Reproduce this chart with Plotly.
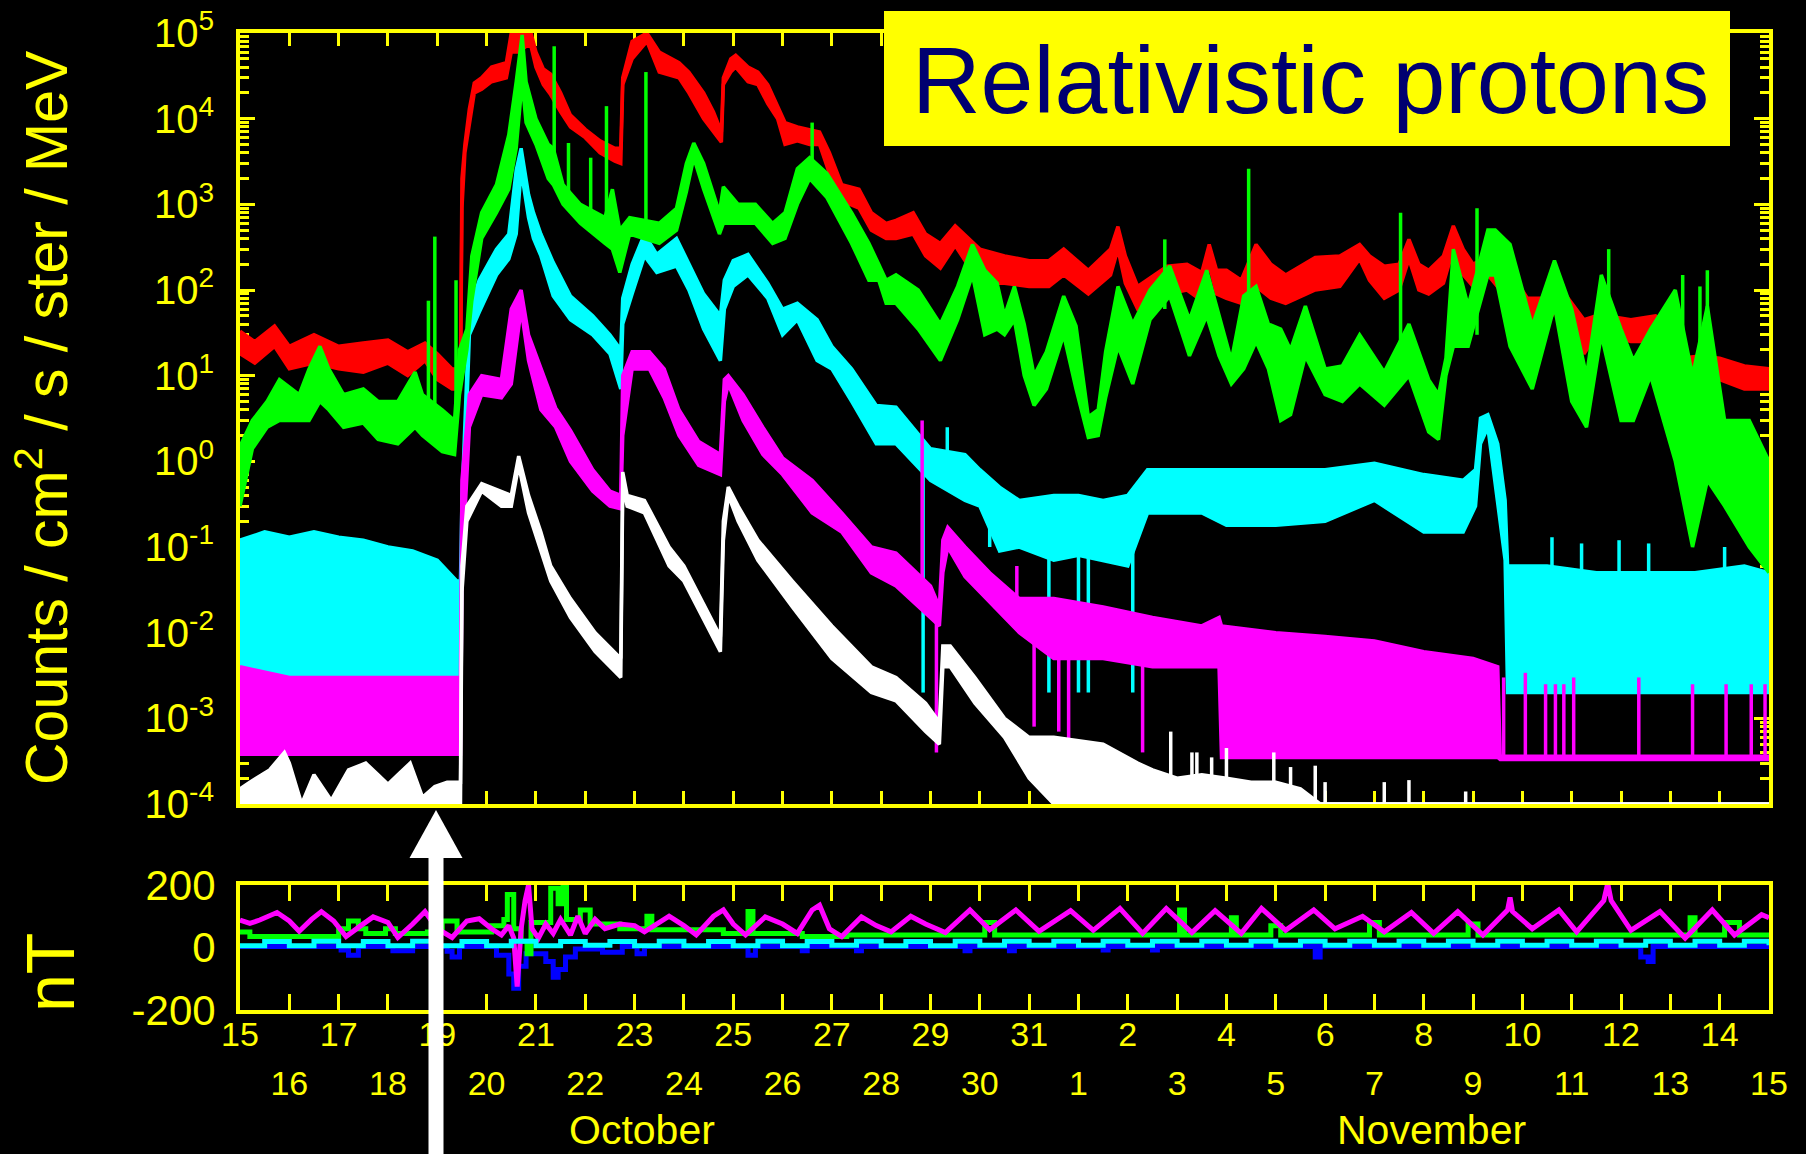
import plotly.graph_objects as go

# ---------------------------------------------------------------------------
# Particle fluxes, October 15 - November 15 (day 0 = Oct 15, 00 UT).
# Each row: (day, lower envelope, upper envelope) in counts/cm2/s/ster/MeV.
# ---------------------------------------------------------------------------
RED = [
    (0.0, 18, 33), (0.3, 14, 25), (0.7, 22, 38), (1.0, 12, 22), (1.5, 14, 30),
    (2.0, 12, 22), (2.5, 11, 24), (3.0, 14, 26), (3.4, 10, 19), (3.75, 15, 24),
    (4.0, 9, 18), (4.3, 7, 12), (4.47, 7, 12), (4.5, 900, 2000), (4.56, 4000, 5000),
    (4.65, 9000, 13000), (4.75, 20000, 26000), (4.9, 22000, 30000), (5.1, 27000, 40000),
    (5.4, 30000, 45000), (5.5, 60000, 100000), (5.65, 60000, 100000), (5.8, 70000, 100000),
    (5.9, 70000, 100000), (6.0, 40000, 60000), (6.15, 25000, 38000), (6.3, 19000, 33000),
    (6.5, 12000, 20000), (6.7, 8000, 11000), (7.0, 6000, 7500), (7.3, 4000, 5500),
    (7.6, 3200, 4500), (7.72, 3000, 4500), (7.76, 25000, 30000), (7.95, 50000, 80000),
    (8.25, 80000, 100000), (8.5, 35000, 60000), (8.9, 30000, 45000), (9.1, 20000, 35000),
    (9.4, 10000, 20000), (9.6, 7000, 12000), (9.76, 5300, 7000), (9.8, 25000, 30000),
    (9.95, 35000, 50000), (10.05, 40000, 55000), (10.3, 27000, 40000), (10.5, 25000, 35000),
    (10.7, 15000, 25000), (10.9, 10000, 14000), (11.05, 5000, 9000), (11.3, 5500, 8000),
    (11.55, 5000, 7500), (11.75, 5000, 7000), (11.95, 2300, 4000), (12.2, 1100, 1700),
    (12.55, 900, 1500), (12.8, 500, 800), (13.1, 400, 600), (13.3, 400, 650),
    (13.65, 450, 800), (13.9, 250, 450), (14.2, 180, 350), (14.5, 330, 560),
    (15.0, 120, 300), (15.5, 120, 250), (16.0, 110, 220), (16.4, 110, 220),
    (16.7, 150, 300), (17.2, 90, 170), (17.65, 150, 300), (17.8, 300, 550),
    (17.95, 120, 250), (18.2, 60, 110), (18.8, 90, 190), (19.2, 100, 200),
    (19.5, 75, 160), (19.65, 200, 340), (19.8, 90, 170), (20.0, 80, 170),
    (20.3, 70, 130), (20.6, 110, 340), (20.9, 80, 200), (21.2, 70, 150),
    (21.8, 100, 240), (22.3, 110, 250), (22.7, 230, 340), (22.9, 130, 250),
    (23.2, 80, 190), (23.5, 100, 200), (23.7, 230, 390), (23.9, 100, 200),
    (24.1, 90, 170), (24.4, 120, 250), (24.6, 300, 560), (24.8, 150, 300),
    (25.0, 110, 200), (25.3, 150, 250), (25.55, 100, 170), (25.8, 90, 150),
    (26.1, 40, 80), (26.5, 40, 80), (26.75, 70, 110), (27.0, 40, 70),
    (27.25, 18, 45), (27.5, 30, 50), (27.7, 30, 50), (28.2, 25, 45),
    (28.7, 25, 50), (28.9, 20, 40), (29.2, 9, 16), (29.6, 10, 17),
    (30.0, 9, 16), (30.5, 7, 13), (31.0, 7, 12),
]

GREEN = [
    (0.0, 0.3, 1.5), (0.25, 1.4, 3.0), (0.55, 2.5, 5.0), (0.8, 3.0, 9.0), (1.2, 3.0, 6.0),
    (1.4, 3.0, 12), (1.62, 5.0, 22), (1.8, 4.0, 12), (2.1, 2.5, 6.0), (2.5, 2.8, 7.0),
    (2.8, 1.8, 5.0), (3.2, 1.6, 5.0), (3.55, 2.5, 11), (3.7, 2.0, 6.0), (4.1, 1.3, 4.0),
    (4.35, 1.2, 3.0), (4.45, 6, 20), (4.6, 20, 35), (4.7, 75, 250), (4.9, 400, 800),
    (5.2, 800, 1700), (5.45, 1500, 6500), (5.6, 4500, 27000), (5.72, 27000, 95000),
    (5.8, 9000, 27000), (6.0, 5000, 10000), (6.25, 2000, 5000), (6.35, 1700, 4500),
    (6.55, 1000, 1700), (6.9, 600, 1000), (7.4, 350, 700), (7.55, 300, 1500),
    (7.7, 160, 500), (7.9, 450, 700), (8.5, 350, 600), (8.85, 500, 900),
    (9.05, 1400, 3000), (9.2, 3500, 5200), (9.4, 1500, 3000), (9.6, 700, 1300),
    (9.72, 450, 800), (9.8, 600, 1600), (10.1, 600, 1000), (10.45, 600, 1000),
    (10.8, 350, 600), (11.05, 400, 800), (11.3, 1000, 2600), (11.55, 2000, 3500),
    (11.9, 1200, 2300), (12.4, 350, 800), (12.75, 130, 350), (12.95, 130, 200),
    (13.1, 70, 130), (13.3, 70, 150), (13.75, 35, 100), (14.2, 15, 40),
    (14.55, 45, 110), (14.85, 150, 340), (15.1, 30, 170), (15.35, 35, 120),
    (15.5, 30, 50), (15.7, 45, 110), (15.9, 10, 40), (16.1, 4.5, 10),
    (16.35, 7, 19), (16.7, 30, 85), (16.95, 7, 38), (17.2, 1.9, 3.3),
    (17.4, 2.0, 4.0), (17.55, 5.5, 19), (17.8, 22, 110), (18.1, 8, 40),
    (18.45, 45, 100), (18.85, 85, 190), (19.25, 17, 45), (19.6, 50, 170),
    (19.85, 17, 50), (20.1, 8, 15), (20.35, 12, 85), (20.6, 25, 110),
    (20.85, 12, 40), (21.1, 3.0, 35), (21.3, 3.5, 20), (21.6, 17, 65),
    (22.0, 6, 12), (22.35, 5, 13), (22.7, 8, 30), (23.2, 4.5, 11),
    (23.7, 10, 40), (24.1, 2.2, 9), (24.3, 1.8, 6), (24.45, 10, 16),
    (24.6, 22, 300), (24.9, 22, 65), (25.3, 150, 500), (25.45, 150, 500),
    (25.75, 22, 340), (26.2, 7, 38), (26.65, 65, 220), (27.0, 5, 60),
    (27.3, 2.5, 10), (27.6, 30, 150), (28.0, 3, 35), (28.25, 3, 15),
    (28.6, 10, 35), (29.1, 1, 100), (29.45, 0.1, 10), (29.75, 0.6, 65),
    (30.1, 0.3, 3), (30.6, 0.1, 3), (31.0, 0.05, 1),
]

CYAN = [
    (0.0, 0.002, 0.12), (0.5, 0.002, 0.15), (1.0, 0.002, 0.13), (1.5, 0.002, 0.15),
    (2.0, 0.002, 0.13), (2.5, 0.002, 0.12), (3.0, 0.002, 0.10), (3.5, 0.002, 0.09),
    (4.0, 0.002, 0.07), (4.4, 0.002, 0.04), (4.47, 0.002, 0.04), (4.5, 0.1, 0.35),
    (4.65, 30, 60), (4.85, 55, 130), (5.2, 150, 300), (5.45, 230, 450),
    (5.6, 450, 2500), (5.7, 2500, 4500), (5.85, 700, 1300), (5.95, 400, 800),
    (6.1, 250, 450), (6.35, 85, 210), (6.7, 45, 85), (7.15, 30, 50),
    (7.5, 18, 30), (7.72, 7, 20), (7.76, 40, 80), (7.95, 90, 200),
    (8.2, 250, 450), (8.45, 160, 260), (8.85, 190, 400), (9.1, 100, 200),
    (9.4, 35, 90), (9.74, 15, 50), (9.82, 60, 130), (10.0, 110, 220),
    (10.3, 150, 260), (10.7, 80, 120), (11.0, 30, 60), (11.3, 45, 70),
    (11.7, 15, 45), (12.0, 12, 22), (12.4, 5, 12), (12.9, 1.6, 4.5),
    (13.3, 1.6, 4.3), (14.0, 0.6, 1.4), (14.7, 0.35, 1.2), (15.0, 0.3, 0.8),
    (15.4, 0.09, 0.5), (15.8, 0.1, 0.35), (16.5, 0.07, 0.4), (17.0, 0.08, 0.4),
    (17.5, 0.07, 0.35), (18.0, 0.06, 0.4), (18.4, 0.25, 0.8), (19.0, 0.25, 0.8),
    (19.5, 0.25, 0.8), (20.0, 0.18, 0.8), (21.0, 0.18, 0.8), (22.0, 0.2, 0.8),
    (23.0, 0.35, 0.95), (24.0, 0.15, 0.7), (24.8, 0.15, 0.6), (25.05, 0.3, 0.8),
    (25.15, 1.6, 3.2), (25.3, 2.5, 3.5), (25.5, 0.35, 1.6), (25.65, 0.07, 0.35),
    (25.7, 0.002, 0.06), (26.5, 0.002, 0.06), (27.5, 0.002, 0.05), (28.5, 0.002, 0.05),
    (29.5, 0.002, 0.05), (30.5, 0.002, 0.06), (31.0, 0.002, 0.05),
]

MAGENTA = [
    (0.0, 0.00038, 0.004), (1.0, 0.00038, 0.003), (2.0, 0.00038, 0.003),
    (3.0, 0.00038, 0.003), (4.0, 0.00038, 0.003), (4.47, 0.00038, 0.003),
    (4.5, 0.05, 0.6), (4.65, 2.5, 6), (4.9, 6, 10), (5.3, 5.5, 9), (5.5, 8, 60),
    (5.7, 60, 100), (5.85, 15, 30), (6.1, 4, 12), (6.4, 2.5, 4.2), (6.7, 1.0, 2.3),
    (7.15, 0.45, 0.8), (7.5, 0.3, 0.45), (7.72, 0.28, 0.4), (7.76, 2, 10),
    (7.95, 12, 19), (8.3, 12, 19), (8.6, 5.5, 12), (8.9, 2, 4), (9.3, 0.9, 1.7),
    (9.74, 0.7, 1.2), (9.82, 5, 9), (9.9, 8, 10), (10.2, 3, 6), (10.6, 1.2, 2.5),
    (11.0, 0.7, 1.1), (11.6, 0.25, 0.6), (12.2, 0.15, 0.25), (12.8, 0.05, 0.1),
    (13.3, 0.035, 0.085), (14.0, 0.015, 0.035), (14.18, 0.012, 0.02),
    (14.25, 0.05, 0.12), (14.35, 0.1, 0.17), (14.7, 0.045, 0.1), (15.2, 0.023, 0.05),
    (15.8, 0.01, 0.025), (16.5, 0.005, 0.025), (17.5, 0.005, 0.02), (18.5, 0.004, 0.015),
    (19.5, 0.004, 0.012), (19.85, 0.004, 0.015), (19.9, 0.00035, 0.012),
    (21.0, 0.00035, 0.01), (22.0, 0.00035, 0.009), (23.0, 0.00035, 0.008),
    (24.0, 0.00035, 0.006), (25.0, 0.00035, 0.005), (25.5, 0.00035, 0.004),
    (25.55, 0.00033, 0.00036), (31.0, 0.00033, 0.00036),
]

WHITE = [
    (0.0, 0.0001, 0.00015), (0.2, 0.0001, 0.00018), (0.6, 0.0001, 0.00025),
    (0.9, 0.0001, 0.0004), (1.0, 0.0001, 0.0003), (1.25, 0.0001, 0.0001),
    (1.5, 0.0001, 0.00022), (1.85, 0.0001, 0.00011), (2.2, 0.0001, 0.00025),
    (2.55, 0.0001, 0.0003), (2.8, 0.0001, 0.00022), (3.0, 0.0001, 0.00017),
    (3.2, 0.0001, 0.00022), (3.45, 0.0001, 0.0003), (3.7, 0.0001, 0.00012),
    (3.95, 0.0001, 0.00016), (4.2, 0.0001, 0.00018), (4.47, 0.0001, 0.00018),
    (4.5, 0.03, 0.06), (4.6, 0.2, 0.3), (4.9, 0.45, 0.55), (5.3, 0.3, 0.45),
    (5.5, 0.3, 0.4), (5.65, 0.9, 1.15), (5.85, 0.25, 0.4), (6.1, 0.09, 0.15),
    (6.3, 0.04, 0.06), (6.7, 0.015, 0.025), (7.2, 0.006, 0.01), (7.72, 0.003, 0.005),
    (7.76, 0.5, 0.75), (7.85, 0.3, 0.4), (8.2, 0.25, 0.35), (8.7, 0.06, 0.1),
    (9.0, 0.04, 0.06), (9.74, 0.006, 0.009), (9.8, 0.12, 0.2), (9.9, 0.4, 0.5),
    (10.1, 0.2, 0.3), (10.5, 0.07, 0.12), (11.2, 0.02, 0.04), (12.0, 0.005, 0.012),
    (12.8, 0.002, 0.004), (13.3, 0.0016, 0.003), (13.9, 0.0007, 0.0015),
    (14.18, 0.0005, 0.0009), (14.25, 0.004, 0.007), (14.4, 0.004, 0.007),
    (14.9, 0.0015, 0.003), (15.5, 0.0006, 0.001), (16.0, 0.0002, 0.0006),
    (16.5, 0.0001, 0.0006), (17.5, 0.0001, 0.0005), (18.2, 0.0001, 0.0003),
    (18.5, 0.0001, 0.00025), (19.0, 0.0001, 0.0002), (19.5, 0.0001, 0.00022),
    (20.0, 0.0001, 0.0002), (20.5, 0.0001, 0.00018), (21.0, 0.0001, 0.00018),
    (21.5, 0.0001, 0.00015), (21.9, 0.0001, 0.0001), (31.0, 0.0001, 0.0001),
]

# Short-lived spikes and dropouts: (day, bottom, top)
GREEN_SPIKES = [
    (3.82, 3, 75), (3.95, 3, 420), (4.38, 3, 130), (6.37, 2000, 70000),
    (6.66, 1000, 5200), (7.11, 600, 3500), (7.43, 500, 14000), (8.23, 400, 35000),
    (11.6, 2000, 9000), (18.75, 60, 390), (20.45, 20, 2600), (23.53, 10, 800),
    (25.08, 30, 900), (27.75, 30, 300), (29.25, 3, 150), (29.6, 1, 110), (29.75, 1, 170),
]
CYAN_SPIKES = [
    (13.85, 0.002, 1.0), (14.34, 1.0, 2.5), (15.2, 0.1, 0.5), (16.4, 0.002, 0.1),
    (17.0, 0.002, 0.1), (17.2, 0.002, 0.1), (18.1, 0.002, 0.1), (26.6, 0.05, 0.13),
    (27.2, 0.05, 0.11), (27.96, 0.05, 0.12), (28.56, 0.05, 0.11), (30.1, 0.05, 0.1),
]
MAGENTA_SPIKES = [
    (13.83, 0.02, 3.0), (14.12, 0.0004, 0.015), (15.75, 0.02, 0.06), (16.1, 0.0008, 0.01),
    (16.6, 0.0007, 0.01), (16.8, 0.0005, 0.01), (18.3, 0.0004, 0.005),
    (25.62, 0.00035, 0.003), (26.06, 0.00035, 0.0034), (26.47, 0.00035, 0.0025),
    (26.67, 0.00035, 0.0025), (26.84, 0.00035, 0.0025), (27.04, 0.00035, 0.003),
    (28.36, 0.00035, 0.003), (29.45, 0.00035, 0.0025), (30.13, 0.00035, 0.0025),
    (30.64, 0.00035, 0.0025), (30.92, 0.00035, 0.0025),
]
WHITE_SPIKES = [
    (18.87, 0.0001, 0.0007), (19.3, 0.0001, 0.0004), (19.4, 0.0001, 0.0004),
    (19.7, 0.0001, 0.00035), (20.0, 0.0001, 0.00045), (20.96, 0.0001, 0.0004),
    (21.3, 0.0001, 0.00027), (21.8, 0.0001, 0.00028), (22.0, 0.0001, 0.00018),
    (23.2, 0.0001, 0.00018), (23.7, 0.0001, 0.00019), (24.85, 0.0001, 0.00014),
]

# ---------------------------------------------------------------------------
# Magnetometer traces (nT): (day, value)
# ---------------------------------------------------------------------------
MAG_NT = [
    (0.0, 88), (0.2, 77), (0.4, 88), (0.75, 112), (1.0, 85), (1.2, 52), (1.45, 90),
    (1.65, 115), (1.9, 85), (2.15, 35), (2.45, 70), (2.7, 98), (3.0, 80), (3.2, 32),
    (3.5, 75), (3.75, 115), (4.0, 60), (4.3, 32), (4.6, 85), (4.85, 92), (5.1, 60),
    (5.3, 40), (5.45, 70), (5.55, 30), (5.62, -125), (5.7, 60), (5.78, 150),
    (5.85, 200), (5.92, 60), (6.05, 30), (6.2, 75), (6.35, 45), (6.5, 90), (6.7, 40),
    (6.85, 100), (7.0, 45), (7.2, 90), (7.4, 60), (7.7, 75), (8.0, 70), (8.2, 50),
    (8.45, 75), (8.7, 100), (9.0, 70), (9.25, 40), (9.6, 100), (9.8, 120), (10.0, 75),
    (10.25, 40), (10.65, 98), (11.0, 75), (11.3, 45), (11.6, 120), (11.75, 135),
    (11.95, 60), (12.2, 35), (12.6, 98), (12.9, 70), (13.2, 50), (13.6, 100),
    (13.9, 75), (14.3, 48), (14.8, 120), (15.2, 57), (15.73, 120), (16.2, 52),
    (16.84, 118), (17.3, 55), (17.84, 125), (18.3, 45), (18.78, 125), (19.3, 48),
    (19.77, 118), (20.3, 45), (20.71, 125), (21.2, 55), (21.77, 120), (22.2, 60),
    (22.76, 100), (23.2, 50), (23.75, 112), (24.2, 45), (24.69, 115), (25.2, 40),
    (25.7, 120), (25.75, 160), (25.8, 115), (26.2, 60), (26.74, 120), (27.1, 50),
    (27.65, 150), (27.73, 205), (27.8, 150), (28.2, 55), (28.79, 115), (29.3, 30),
    (29.85, 120), (30.3, 40), (30.85, 105), (31.0, 95),
]
GREEN_NT = [
    (0.0, 50), (0.2, 35), (2.0, 60), (2.2, 85), (2.4, 60), (2.55, 45), (2.95, 60),
    (3.15, 45), (3.8, 50), (4.1, 85), (4.4, 50), (5.1, 70), (5.35, 90), (5.42, 170),
    (5.55, 60), (5.7, 20), (5.82, -20), (5.9, 80), (6.3, 190), (6.45, 140), (6.55, 200),
    (6.62, 90), (6.9, 120), (7.1, 75), (7.7, 60), (8.25, 100), (8.35, 57), (9.8, 45),
    (10.3, 115), (10.4, 45), (11.4, 35), (12.3, 40), (14.5, 40), (15.1, 80), (15.3, 40),
    (19.05, 120), (19.15, 40), (20.1, 95), (20.2, 40), (20.9, 70), (21.1, 40),
    (22.9, 80), (23.1, 40), (24.9, 75), (25.1, 40), (29.4, 95), (29.5, 40),
    (30.1, 80), (30.4, 40), (31.0, 45),
]
CYAN_NT_T = [
    0.0, 0.5, 1.0, 1.5, 2.0, 2.5, 3.0, 3.5, 4.0, 4.5, 5.0, 5.5, 6.0, 6.5, 7.0, 7.5,
    8.0, 8.5, 9.0, 9.5, 10.0, 10.5, 11.0, 11.5, 12.0, 12.5, 13.0, 13.5, 14.0, 14.5,
    15.0, 15.5, 16.0, 16.5, 17.0, 17.5, 18.0, 18.5, 19.0, 19.5, 20.0, 20.5, 21.0,
    21.5, 22.0, 22.5, 23.0, 23.5, 24.0, 24.5, 25.0, 25.5, 26.0, 26.5, 27.0, 27.5,
    28.0, 28.5, 29.0, 29.5, 30.0, 30.5, 31.0,
]
CYAN_NT_V = [
    6, 19, 6, 20, 6, 19, 6, 20, 6, 19, 6, 20, 6, 19, 7, 19, 6, 20, 6, 19, 6, 20,
    6, 19, 7, 20, 6, 19, 6, 20, 7, 20, 7, 20, 7, 20, 7, 20, 7, 20, 7, 20, 7, 20,
    7, 20, 7, 20, 7, 20, 7, 20, 7, 20, 7, 20, 7, 20, 7, 20, 7, 20, 7,
]
BLUE_NT = [
    (0.0, 3), (2.05, -8), (2.2, -25), (2.4, 3), (3.1, -10), (3.5, 3), (4.2, -12),
    (4.3, -30), (4.45, 3), (5.2, -25), (5.45, -85), (5.55, -130), (5.65, -60),
    (5.8, -20), (6.0, -20), (6.2, -45), (6.35, -95), (6.45, -70), (6.6, -30),
    (6.8, -5), (7.35, -15), (7.75, 3), (8.05, -20), (8.2, 3), (10.3, -25),
    (10.45, 3), (11.4, -10), (11.5, 3), (12.5, -10), (12.6, 3), (14.7, -10),
    (14.8, 3), (15.6, -10), (15.7, 3), (17.5, -8), (17.6, 3), (18.5, -8), (18.6, 3),
    (21.8, -30), (21.9, 3), (28.4, -30), (28.55, -45), (28.65, 3), (31.0, 3),
]

# Axis labelling
DAY_LABELS = ["15", "16", "17", "18", "19", "20", "21", "22", "23", "24", "25", "26",
              "27", "28", "29", "30", "31", "1", "2", "3", "4", "5", "6", "7", "8", "9",
              "10", "11", "12", "13", "14", "15"]
FLUX_TICKS = [1e-4, 1e-3, 1e-2, 1e-1, 1e0, 1e1, 1e2, 1e3, 1e4, 1e5]
FLUX_LABELS = ["10<sup>-4</sup>", "10<sup>-3</sup>", "10<sup>-2</sup>", "10<sup>-1</sup>",
               "10<sup>0</sup>", "10<sup>1</sup>", "10<sup>2</sup>", "10<sup>3</sup>",
               "10<sup>4</sup>", "10<sup>5</sup>"]
NT_TICKS = [-200, 0, 200]
NT_LABELS = ["-200", "0", "200"]

# ---------------------------------------------------------------------------
W, H = 1806, 1154
YEL = "#ffff00"
FONT = "Liberation Sans, Arial, Helvetica, sans-serif"
C_RED, C_GRN, C_CYN, C_MAG, C_WHT, C_BLU = "#ff0000", "#00ff00", "#00ffff", "#ff00ff", "#ffffff", "#0000ff"


def px(x):
    return x / W


def py(y):
    return 1 - y / H


fig = go.Figure()


def add_band(rows, color):
    t = [r[0] for r in rows]
    lo = [r[1] for r in rows]
    hi = [r[2] for r in rows]
    fig.add_trace(go.Scatter(x=t, y=lo, mode="lines", line=dict(color=color, width=3.5),
                             xaxis="x", yaxis="y", hoverinfo="skip", showlegend=False))
    fig.add_trace(go.Scatter(x=t, y=hi, mode="lines", line=dict(color=color, width=3.5),
                             fill="tonexty", fillcolor=color,
                             xaxis="x", yaxis="y", hoverinfo="skip", showlegend=False))


def add_spikes(rows, color):
    xs, ys = [], []
    for t, b, top in rows:
        xs += [t, t, None]
        ys += [b, top, None]
    fig.add_trace(go.Scatter(x=xs, y=ys, mode="lines", line=dict(color=color, width=3.5),
                             xaxis="x", yaxis="y", hoverinfo="skip", showlegend=False,
                             connectgaps=False))


# top panel, drawn back to front
add_band(RED, C_RED)
add_band(CYAN, C_CYN)
add_spikes(CYAN_SPIKES, C_CYN)
add_band(MAGENTA, C_MAG)
add_spikes(MAGENTA_SPIKES, C_MAG)
add_band(WHITE, C_WHT)
add_spikes(WHITE_SPIKES, C_WHT)
add_band(GREEN, C_GRN)
add_spikes(GREEN_SPIKES, C_GRN)


def add_nt(rows_t, rows_v, color, shape, xaxis="x2"):
    fig.add_trace(go.Scatter(x=rows_t, y=rows_v, mode="lines",
                             line=dict(color=color, width=5, shape=shape),
                             xaxis=xaxis, yaxis="y2", hoverinfo="skip", showlegend=False))


add_nt([r[0] for r in BLUE_NT], [r[1] for r in BLUE_NT], C_BLU, "hv")
# the cyan trace also carries the second row of day labels (x3 overlays x2)
add_nt(CYAN_NT_T, CYAN_NT_V, C_CYN, "hv", xaxis="x3")
add_nt([r[0] for r in GREEN_NT], [r[1] for r in GREEN_NT], C_GRN, "hv")
add_nt([r[0] for r in MAG_NT], [r[1] for r in MAG_NT], C_MAG, "linear")

X_DOM = [px(240), px(1769)]
axis_common = dict(showgrid=False, zeroline=False, showline=True, linecolor=YEL,
                   linewidth=4, tickcolor=YEL, tickwidth=3, ticks="inside",
                   mirror="ticks", layer="below traces", automargin=False)

minor_vals = [k * 10.0 ** e for e in range(-4, 5) for k in range(2, 10)]

fig.update_layout(
    template="none",
    width=W, height=H,
    margin=dict(l=0, r=0, t=0, b=0, pad=0, autoexpand=False),
    paper_bgcolor="black", plot_bgcolor="black",
    font=dict(family=FONT, color=YEL),
    showlegend=False,
    xaxis=dict(domain=X_DOM, range=[0, 31], anchor="y", tickmode="array",
               tickvals=list(range(32)), ticklen=13, showticklabels=False, **axis_common),
    yaxis=dict(domain=[py(804), py(33)], type="log", range=[-4, 5], anchor="x",
               tickmode="array", tickvals=FLUX_TICKS, ticktext=FLUX_LABELS, ticklen=15,
               tickfont=dict(size=40, color=YEL, family=FONT), ticklabelstandoff=14,
               minor=dict(tickmode="array", tickvals=minor_vals, ticks="inside",
                          ticklen=9, tickwidth=3, tickcolor=YEL, showgrid=False),
               **axis_common),
    xaxis2=dict(domain=X_DOM, range=[0, 31], anchor="y2", tickmode="array",
                tickvals=list(range(0, 32, 2)), ticktext=DAY_LABELS[0::2], ticklen=16,
                tickfont=dict(size=34, color=YEL, family=FONT), ticklabelstandoff=-9,
                minor=dict(tickmode="array", tickvals=list(range(1, 32, 2)), ticks="inside",
                           ticklen=16, tickwidth=3, tickcolor=YEL, showgrid=False),
                **axis_common),
    xaxis3=dict(domain=X_DOM, range=[0, 31], anchor="y2", overlaying="x2", side="bottom",
                tickmode="array", tickvals=list(range(1, 32, 2)), ticktext=DAY_LABELS[1::2],
                ticks="", showline=False, showgrid=False, zeroline=False, automargin=False,
                ticklabelstandoff=50, tickfont=dict(size=34, color=YEL, family=FONT)),
    yaxis2=dict(domain=[py(1010), py(885)], range=[-200, 200], anchor="x2",
                tickmode="array", tickvals=NT_TICKS, ticktext=NT_LABELS,
                showgrid=False, zeroline=False, showline=True, linecolor=YEL, linewidth=4,
                mirror=True, ticks="", ticklabelstandoff=12, automargin=False,
                tickfont=dict(size=42, color=YEL, family=FONT)),
)

annotations = [
    dict(text="Counts / cm<sup>2</sup> / s / ster / MeV", x=px(42), y=py(418),
         xref="paper", yref="paper", textangle=-90, showarrow=False,
         font=dict(size=59, color=YEL, family=FONT), xanchor="center", yanchor="middle"),
    dict(text="nT", x=px(50), y=py(973), xref="paper", yref="paper", textangle=-90,
         showarrow=False, font=dict(size=68, color=YEL, family=FONT),
         xanchor="center", yanchor="middle"),
    dict(text="October", x=8.15, y=0, xref="x2", yref="paper", showarrow=False,
         font=dict(size=41, color=YEL, family=FONT), xanchor="center", yanchor="bottom",
         borderpad=0),
    dict(text="November", x=24.15, y=0, xref="x2", yref="paper", showarrow=False,
         font=dict(size=41, color=YEL, family=FONT), xanchor="center", yanchor="bottom",
         borderpad=0),
    dict(text="Relativistic protons", x=px(1310), y=py(80), xref="paper", yref="paper",
         showarrow=False, font=dict(size=95, color="#000070", family=FONT),
         xanchor="center", yanchor="middle"),
]
fig.update_layout(annotations=annotations)

shapes = [
    # title box
    dict(type="rect", xref="paper", yref="paper", x0=px(884), x1=px(1730),
         y0=py(146), y1=py(11), fillcolor=YEL, line=dict(width=0), layer="above"),
    # event marker arrow: shaft and head
    dict(type="rect", xref="paper", yref="paper", x0=px(428.5), x1=px(443.5),
         y0=0, y1=py(856), fillcolor="white", line=dict(width=0), layer="above"),
    dict(type="path", xref="paper", yref="paper",
         path=f"M {px(436)},{py(810)} L {px(409.5)},{py(858)} L {px(462.5)},{py(858)} Z",
         fillcolor="white", line=dict(width=0), layer="above"),
]
fig.update_layout(shapes=shapes)

fig.write_html("out.html")
